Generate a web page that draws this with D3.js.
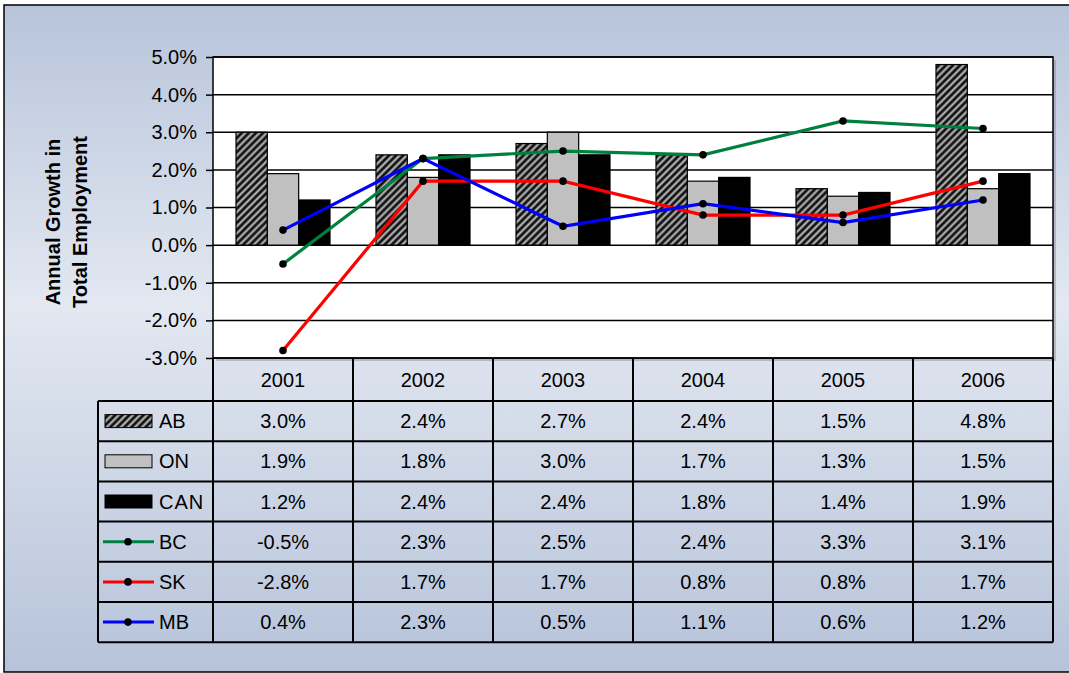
<!DOCTYPE html>
<html>
<head>
<meta charset="utf-8">
<script src="https://cdn.jsdelivr.net/npm/d3@7"></script>
<style>
  body { margin: 0; background: #fff; }
  svg { display: block; font-family: "Liberation Sans", Arial, sans-serif; }
</style>
</head>
<body>
<svg id="chart" width="1069" height="673"></svg>
<script>
var years = ["2001", "2002", "2003", "2004", "2005", "2006"];
var barSeries = ["AB", "ON", "CAN"];
var lineSeries = ["BC", "SK", "MB"];
var ab  = [3.0, 2.4, 2.7, 2.4, 1.5, 4.8];
var on  = [1.9, 1.8, 3.0, 1.7, 1.3, 1.5];
var can = [1.2, 2.4, 2.4, 1.8, 1.4, 1.9];
var bc  = [-0.5, 2.3, 2.5, 2.4, 3.3, 3.1];
var sk  = [-2.8, 1.7, 1.7, 0.8, 0.8, 1.7];
var mb  = [0.4, 2.3, 0.5, 1.1, 0.6, 1.2];
var yTicks = [-3, -2, -1, 0, 1, 2, 3, 4, 5];

var values = {AB: ab, ON: on, CAN: can, BC: bc, SK: sk, MB: mb};
var fills = {AB: "url(#hatch)", ON: "#c0c0c0", CAN: "#000000"};
var lineColors = {BC: "#00803f", SK: "#ff0000", MB: "#0000ff"};

var plot = {left: 213, right: 1053, top: 57, bottom: 358};
var rowTop = 401, rowH = 40.2;
var fontSize = "20px";

// plain hyphen for negatives, like the original
var pct = function(d) { return d3.format(".1f")(d).replace("\u2212", "-") + "%"; };

var svg = d3.select("#chart");
var defs = svg.append("defs");

var grad = defs.append("linearGradient")
    .attr("id", "bg").attr("x1", 0).attr("y1", 0).attr("x2", 0).attr("y2", 1);
grad.append("stop").attr("offset", "0%").attr("stop-color", "#b7c4db");
grad.append("stop").attr("offset", "45%").attr("stop-color", "#e3e8f1");
grad.append("stop").attr("offset", "100%").attr("stop-color", "#b6c3da");

var hatch = defs.append("pattern")
    .attr("id", "hatch")
    .attr("patternUnits", "userSpaceOnUse")
    .attr("width", 5).attr("height", 5)
    .attr("patternTransform", "rotate(45)");
hatch.append("rect").attr("width", 5).attr("height", 5).attr("fill", "#111");
hatch.append("line")
    .attr("x1", 2.5).attr("y1", 0).attr("x2", 2.5).attr("y2", 5)
    .attr("stroke", "#c4c4c4").attr("stroke-width", 2);

// background panel
svg.append("rect")
    .attr("x", 4).attr("y", 5).attr("width", 1080).attr("height", 667)
    .attr("fill", "url(#bg)").attr("stroke", "#000").attr("stroke-width", 1.5);

// scales
var x = d3.scaleBand().domain(years).range([plot.left, plot.right]).padding(0);
var xBar = d3.scaleBand().domain(barSeries).range([0, 94]).padding(0);
var barOffset = (x.bandwidth() - 94) / 2;
var y = d3.scaleLinear().domain([-3, 5]).range([plot.bottom, plot.top]);

// plot area with a soft shadow
svg.append("rect")
    .attr("x", plot.left + 3).attr("y", plot.top + 3)
    .attr("width", plot.right - plot.left).attr("height", plot.bottom - plot.top)
    .attr("fill", "#8a8f99").attr("opacity", 0.5);
svg.append("rect")
    .attr("x", plot.left).attr("y", plot.top)
    .attr("width", plot.right - plot.left).attr("height", plot.bottom - plot.top)
    .attr("fill", "#fff");

// grid
svg.append("g")
    .selectAll("line")
    .data(yTicks)
    .enter()
    .append("line")
    .attr("x1", plot.left).attr("x2", plot.right)
    .attr("y1", function(d) { return y(d); })
    .attr("y2", function(d) { return y(d); })
    .attr("stroke", "#000").attr("stroke-width", 1.5);

// y axis
var yAxis = d3.axisLeft(y)
    .tickValues(yTicks)
    .tickSize(7)
    .tickPadding(9)
    .tickFormat(pct);
var ya = svg.append("g")
    .attr("transform", "translate(" + plot.left + ",0)")
    .call(yAxis);
ya.select(".domain").remove();
ya.selectAll("line").attr("stroke", "#000").attr("stroke-width", 1.5);
ya.selectAll("text")
    .attr("fill", "#000")
    .style("font-size", fontSize)
    .style("font-family", "'Liberation Sans', Arial, sans-serif");

// bars
barSeries.forEach(function(s) {
    svg.append("g")
        .selectAll("rect")
        .data(years)
        .enter()
        .append("rect")
        .attr("x", function(d) { return x(d) + barOffset + xBar(s); })
        .attr("width", xBar.bandwidth())
        .attr("y", function(d, i) { return y(Math.max(0, values[s][i])); })
        .attr("height", function(d, i) { return Math.abs(y(values[s][i]) - y(0)); })
        .attr("fill", fills[s])
        .attr("stroke", "#000")
        .attr("stroke-width", 1.2);
});

// lines
var line = d3.line()
    .x(function(d) { return x(d.year) + x.bandwidth() / 2; })
    .y(function(d) { return y(d.v); });

lineSeries.forEach(function(s) {
    var pts = years.map(function(yr, i) { return {year: yr, v: values[s][i]}; });
    svg.append("path")
        .datum(pts)
        .attr("d", line)
        .attr("fill", "none")
        .attr("stroke", lineColors[s])
        .attr("stroke-width", 3.2);
    svg.append("g")
        .selectAll("circle")
        .data(pts)
        .enter()
        .append("circle")
        .attr("cx", function(d) { return x(d.year) + x.bandwidth() / 2; })
        .attr("cy", function(d) { return y(d.v); })
        .attr("r", 3.8)
        .attr("fill", "#000");
});

// plot border
svg.append("rect")
    .attr("x", plot.left).attr("y", plot.top)
    .attr("width", plot.right - plot.left).attr("height", plot.bottom - plot.top)
    .attr("fill", "none").attr("stroke", "#000").attr("stroke-width", 1.5);

// y title
var title = svg.append("text")
    .attr("transform", "translate(60,222) rotate(-90)")
    .attr("text-anchor", "middle")
    .style("font-size", "20px")
    .style("font-weight", "bold");
title.append("tspan").attr("x", 0).attr("y", 0).text("Annual Growth in");
title.append("tspan").attr("x", 0).attr("y", 27).text("Total Employment");

// data table
var tableG = svg.append("g");
var allSeries = barSeries.concat(lineSeries);
var tableBottom = rowTop + rowH * allSeries.length;

function hline(x1, x2, yy) {
    tableG.append("line").attr("x1", x1).attr("x2", x2).attr("y1", yy).attr("y2", yy)
        .attr("stroke", "#000").attr("stroke-width", 2);
}
function vline(xx, y1, y2) {
    tableG.append("line").attr("x1", xx).attr("x2", xx).attr("y1", y1).attr("y2", y2)
        .attr("stroke", "#000").attr("stroke-width", 2);
}

// header row (years)
tableG.selectAll("text.year")
    .data(years)
    .enter()
    .append("text")
    .attr("class", "year")
    .attr("x", function(d) { return x(d) + x.bandwidth() / 2; })
    .attr("y", plot.bottom + 29)
    .attr("text-anchor", "middle")
    .style("font-size", fontSize)
    .text(function(d) { return d; });

for (var r = 0; r <= allSeries.length; r++) {
    hline(98, plot.right, rowTop + r * rowH);
}
vline(98, rowTop, tableBottom);
years.forEach(function(yr) { vline(x(yr), plot.bottom, tableBottom); });
vline(plot.right, plot.bottom, tableBottom);

allSeries.forEach(function(s, r) {
    var cy = rowTop + r * rowH + rowH / 2;
    // legend key
    if (fills[s]) {
        tableG.append("rect")
            .attr("x", 105).attr("y", cy - 6.5).attr("width", 47).attr("height", 13)
            .attr("fill", fills[s]).attr("stroke", "#000").attr("stroke-width", 1);
    } else {
        tableG.append("line")
            .attr("x1", 103).attr("x2", 154).attr("y1", cy).attr("y2", cy)
            .attr("stroke", lineColors[s]).attr("stroke-width", 3);
        tableG.append("circle").attr("cx", 128).attr("cy", cy).attr("r", 3.8).attr("fill", "#000");
    }
    tableG.append("text")
        .attr("x", 159).attr("y", cy + 7)
        .style("font-size", fontSize)
        .style("letter-spacing", s === "CAN" ? "1px" : "0px")
        .text(s);
    tableG.selectAll("text.v" + s)
        .data(values[s])
        .enter()
        .append("text")
        .attr("x", function(d, i) { return x(years[i]) + x.bandwidth() / 2; })
        .attr("y", cy + 7)
        .attr("text-anchor", "middle")
        .style("font-size", fontSize)
        .text(pct);
});
</script>
</body>
</html>
